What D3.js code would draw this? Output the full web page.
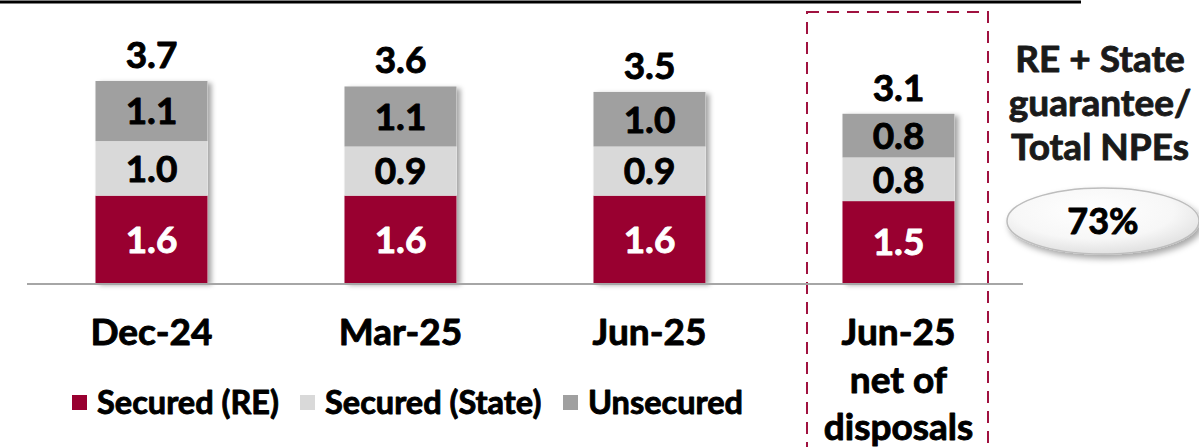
<!DOCTYPE html>
<html>
<head>
<meta charset="utf-8">
<script src="https://cdn.jsdelivr.net/npm/d3@7"></script>
<style>
  html, body { margin: 0; padding: 0; background: #fff; }
  svg { display: block; font-family: Lato, "Open Sans", sans-serif; font-weight: 700; }
  /* heavier strokes on the lettering */
  text.heavy { stroke-width: 0.9px; stroke-linejoin: round; paint-order: stroke; }
</style>
</head>
<body>
<svg id="chart" width="1199" height="447"></svg>
<script>
// NPE breakdown (EUR bn)
const categories = ["Dec-24", "Mar-25", "Jun-25", "Jun-25 net of disposals"];
const categoryLines = [["Dec-24"], ["Mar-25"], ["Jun-25"], ["Jun-25", "net of", "disposals"]];
const securedRE = [1.6, 1.6, 1.6, 1.5];
const securedState = [1.0, 0.9, 0.9, 0.8];
const unsecured = [1.1, 1.1, 1.0, 0.8];
const totals = [3.7, 3.6, 3.5, 3.1];
const seriesNames = ["Secured (RE)", "Secured (State)", "Unsecured"];
const seriesColors = ["#990030", "#d9d9d9", "#a0a0a0"];
const labelColors = ["#ffffff", "#000000", "#000000"];
const coverageTitle = ["RE + State", "guarantee/", "Total NPEs"];
const coverageValue = "73%";

const svg = d3.select("#chart");
const defs = svg.append("defs");

const shadow = defs.append("filter").attr("id", "barShadow")
  .attr("x", "-10%").attr("y", "-10%").attr("width", "130%").attr("height", "130%");
shadow.append("feDropShadow").attr("dx", 4).attr("dy", 2).attr("stdDeviation", 2.5)
  .attr("flood-color", "#000").attr("flood-opacity", 0.35);

const ellShadow = defs.append("filter").attr("id", "ellShadow")
  .attr("x", "-20%").attr("y", "-30%").attr("width", "140%").attr("height", "170%");
ellShadow.append("feDropShadow").attr("dx", 3).attr("dy", 4).attr("stdDeviation", 3)
  .attr("flood-color", "#000").attr("flood-opacity", 0.35);

const ellGrad = defs.append("radialGradient").attr("id", "ellGrad")
  .attr("cx", "45%").attr("cy", "35%").attr("r", "70%");
ellGrad.append("stop").attr("offset", "0%").attr("stop-color", "#ffffff");
ellGrad.append("stop").attr("offset", "60%").attr("stop-color", "#f7f7f7");
ellGrad.append("stop").attr("offset", "100%").attr("stop-color", "#dcdcdc");

const x = d3.scaleBand().domain(categories).range([27, 1023])
  .paddingInner(0.55).paddingOuter(0.275);
const y = d3.scaleLinear().domain([0, 3.7]).range([283, 81]);

// top rule
svg.append("line").attr("x1", 0).attr("x2", 1081).attr("y1", 2).attr("y2", 2)
  .attr("stroke", "#000").attr("stroke-width", 3);

// dashed highlight around the last column
svg.append("rect").attr("x", 807).attr("y", 12).attr("width", 181).attr("height", 460)
  .attr("fill", "none").attr("stroke", "#a0123f").attr("stroke-width", 2)
  .attr("stroke-dasharray", "12,8");

const rows = categories.map((c, i) => ({
  cat: c, values: [securedRE[i], securedState[i], unsecured[i]], total: totals[i]
}));
const stack = d3.stack().keys([0, 1, 2]).value((d, k) => d.values[k]);
const layers = stack(rows);

const barsG = svg.append("g");
// soft shadow under each stacked column
barsG.selectAll("rect.sh").data(rows).join("rect")
  .attr("x", d => x(d.cat)).attr("width", x.bandwidth())
  .attr("y", d => y(d3.sum(d.values))).attr("height", d => y(0) - y(d3.sum(d.values)))
  .attr("fill", "#fff").attr("filter", "url(#barShadow)");

layers.forEach((layer, k) => {
  barsG.selectAll("rect.s" + k).data(layer).join("rect")
    .attr("x", d => x(d.data.cat)).attr("width", x.bandwidth())
    .attr("y", d => y(d[1])).attr("height", d => y(d[0]) - y(d[1]))
    .attr("fill", seriesColors[k]);
  barsG.selectAll("text.s" + k).data(layer).join("text")
    .attr("class", "heavy")
    .attr("x", d => x(d.data.cat) + x.bandwidth() / 2)
    .attr("y", d => (y(d[0]) + y(d[1])) / 2)
    .attr("dy", "0.36em").attr("text-anchor", "middle")
    .attr("font-size", 37).attr("fill", labelColors[k]).attr("stroke", labelColors[k])
    .text(d => d3.format(".1f")(d[1] - d[0]));
});

// baseline drawn over the bars
svg.append("line").attr("x1", 27).attr("x2", 1023).attr("y1", 284).attr("y2", 284)
  .attr("stroke", "#a6a6a6").attr("stroke-width", 2);

// totals above each column
svg.selectAll("text.total").data(rows).join("text")
  .attr("class", "heavy")
  .attr("x", d => x(d.cat) + x.bandwidth() / 2)
  .attr("y", d => y(d3.sum(d.values)) - 13)
  .attr("text-anchor", "middle").attr("font-size", 37)
  .attr("fill", "#000").attr("stroke", "#000")
  .text(d => d3.format(".1f")(d.total));

// category labels
const catG = svg.selectAll("text.cat").data(categories).join("text")
  .attr("class", "heavy")
  .attr("x", d => x(d) + x.bandwidth() / 2)
  .attr("text-anchor", "middle").attr("font-size", 37)
  .attr("fill", "#000").attr("stroke", "#000");
catG.each(function(d, i) {
  d3.select(this).selectAll("tspan").data(categoryLines[i]).join("tspan")
    .attr("x", x(d) + x.bandwidth() / 2)
    .attr("y", (t, j) => 345 + j * 47.5)
    .text(t => t);
});

// legend
const legendX = [72, 300, 563];
const legend = svg.selectAll("g.leg").data(seriesNames).join("g")
  .attr("transform", (d, i) => `translate(${legendX[i]},0)`);
legend.append("rect").attr("x", 0).attr("y", 395).attr("width", 15).attr("height", 15)
  .attr("fill", (d, i) => seriesColors[i]);
legend.append("text").attr("class", "heavy")
  .attr("x", 25).attr("y", 414).attr("font-size", 32.5)
  .attr("fill", "#000").attr("stroke", "#000")
  .text(d => d);

// coverage callout
svg.append("text").attr("class", "heavy")
  .attr("text-anchor", "middle").attr("font-size", 37)
  .attr("fill", "#1a1a1a").attr("stroke", "#1a1a1a")
  .selectAll("tspan").data(coverageTitle).join("tspan")
  .attr("x", 1100).attr("y", (d, j) => 72 + j * 44).text(d => d);
svg.append("ellipse").attr("cx", 1103).attr("cy", 221).attr("rx", 96).attr("ry", 33)
  .attr("fill", "url(#ellGrad)").attr("stroke", "#bdbdbd").attr("stroke-width", 1.5)
  .attr("filter", "url(#ellShadow)");
svg.append("text").attr("class", "heavy")
  .attr("x", 1103).attr("y", 221).attr("dy", "0.36em")
  .attr("text-anchor", "middle").attr("font-size", 36)
  .attr("fill", "#000").attr("stroke", "#000")
  .text(coverageValue);
</script>
</body>
</html>
